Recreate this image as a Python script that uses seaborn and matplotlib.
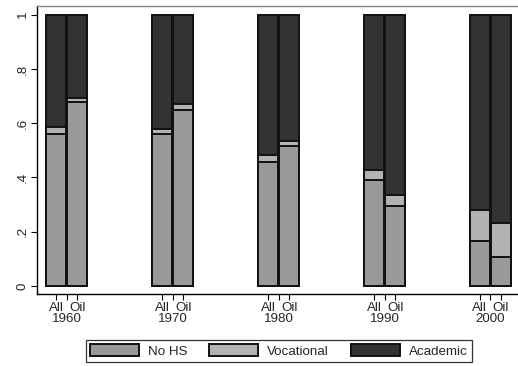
import matplotlib
matplotlib.use("Agg")
import matplotlib.pyplot as plt
import seaborn as sns
import pandas as pd
from matplotlib.patches import Patch

years = ["1960", "1970", "1980", "1990", "2000"]
groups = ["All", "Oil"]
# shares (All, Oil) per year
no_hs = [[0.561, 0.678], [0.560, 0.647], [0.457, 0.515], [0.392, 0.296], [0.167, 0.108]]
vocational = [[0.024, 0.016], [0.020, 0.023], [0.025, 0.019], [0.037, 0.041], [0.113, 0.124]]
academic = [[1 - a - b for a, b in zip(n, v)] for n, v in zip(no_hs, vocational)]

series = ["No HS", "Vocational", "Academic"]
colors = {"No HS": "#999999", "Vocational": "#b3b3b3", "Academic": "#333333"}

rows = []
for i, y in enumerate(years):
    for j, g in enumerate(groups):
        pos = 5 * i + j
        n = no_hs[i][j]
        v = vocational[i][j]
        a = academic[i][j]
        rows.append(dict(year=y, group=g, pos=pos, series="No HS", cum=n))
        rows.append(dict(year=y, group=g, pos=pos, series="Vocational", cum=n + v))
        rows.append(dict(year=y, group=g, pos=pos, series="Academic", cum=n + v + a))
df = pd.DataFrame(rows)

sns.set_style("white")
plt.rcParams["font.family"] = ["Liberation Sans", "DejaVu Sans"]
FS = 9.6
plt.rcParams["font.size"] = FS

fig = plt.figure(figsize=(5.18, 3.66), dpi=100)
W, H = 518, 366
ax = fig.add_axes([37 / W, 72 / H, (518 - 37) / W, (294 - 6) / H])

for s in ["Academic", "Vocational", "No HS"]:
    sub = df[df.series == s]
    sns.barplot(data=sub, x="pos", y="cum", native_scale=True, color=colors[s],
                saturation=1, width=0.95, edgecolor="#111111", linewidth=1.4,
                errorbar=None, ax=ax)

ax.set_xlim(-0.9, 21.8)
y0 = (286 - 294) / 271.3
y1 = (286 - 6) / 271.3
ax.set_ylim(y0, y1)

ax.set_yticks([0, 0.2, 0.4, 0.6, 0.8, 1.0])
ax.set_yticklabels(["0", ".2", ".4", ".6", ".8", "1"], rotation=90, va="center")

major, major_lab, minor, minor_lab = [], [], [], []
for i, y in enumerate(years):
    major += [5 * i, 5 * i + 1]
    major_lab += ["All", "Oil"]
    minor.append(5 * i + 0.5)
    minor_lab.append(y)
ax.set_xticks(major)
ax.set_xticklabels(major_lab)
ax.set_xticks(minor, minor=True)
ax.set_xticklabels(minor_lab, minor=True)
ax.tick_params(axis="both", which="major", direction="out", length=4, width=0.8,
               color="black", labelsize=FS, pad=2, bottom=True, left=True)
ax.tick_params(axis="x", which="minor", direction="out", length=4, width=0.8,
               color="black", labelsize=FS, pad=9.5, bottom=True)
ax.set_xlabel("")
ax.set_ylabel("")

for side in ["left", "bottom"]:
    ax.spines[side].set_color("black")
    ax.spines[side].set_linewidth(1.0)
ax.spines["top"].set_color("#888888")
ax.spines["top"].set_linewidth(1.0)
ax.spines["right"].set_visible(False)

handles = [Patch(facecolor=colors[s], edgecolor="#111111", linewidth=1.4, label=s) for s in series]
leg = fig.legend(handles=handles, loc="center", bbox_to_anchor=(278.8 / W, (366 - 351) / H),
                 ncol=3, frameon=True, fancybox=False, edgecolor="black",
                 handlelength=3.66, handleheight=0.9, handletextpad=0.67,
                 columnspacing=1.64, borderpad=0.35, fontsize=FS)
leg.get_frame().set_linewidth(0.9)

fig.savefig("out.png", dpi=100)
